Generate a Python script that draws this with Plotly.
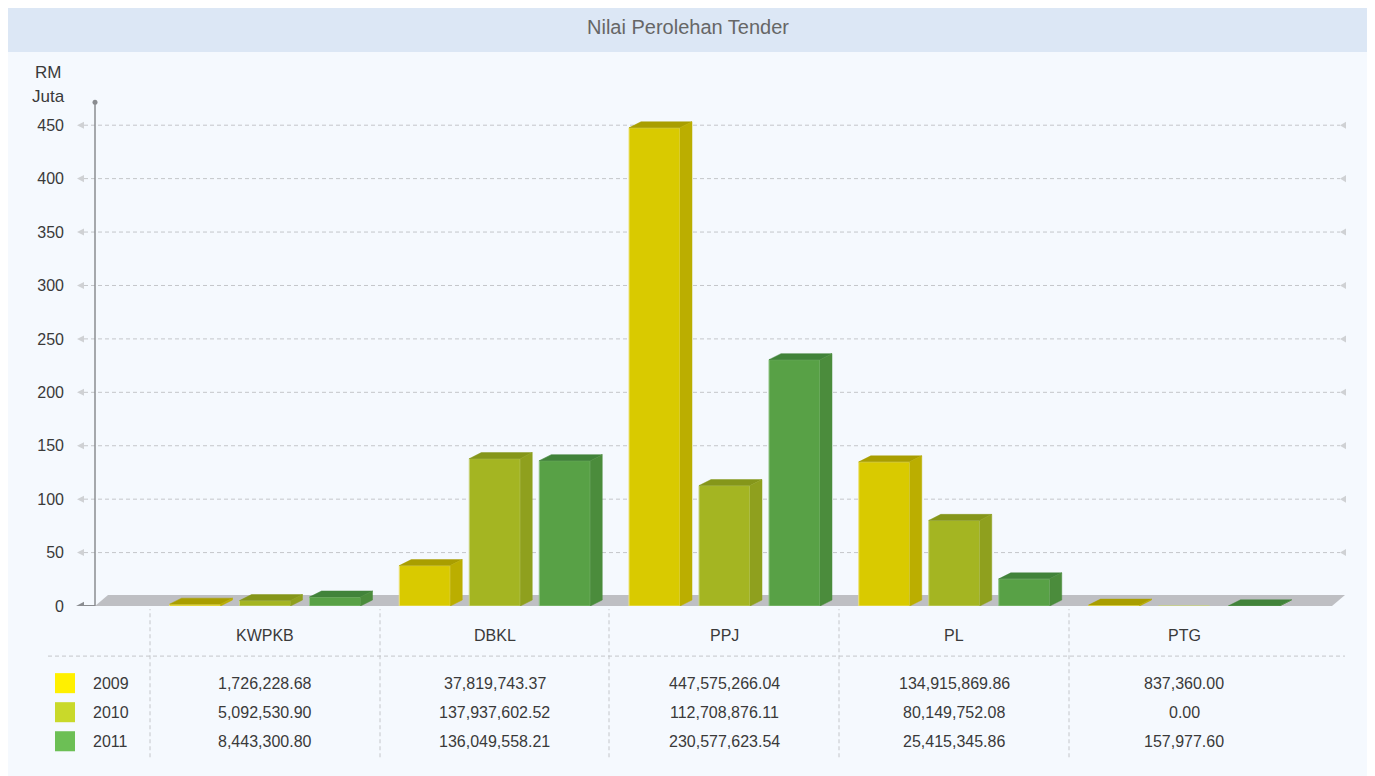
import plotly.graph_objects as go

# ---------------- data ----------------
categories = ["KWPKB", "DBKL", "PPJ", "PL", "PTG"]
years = ["2009", "2010", "2011"]
values_2009 = [1726228.68, 37819743.37, 447575266.04, 134915869.86, 837360.00]
values_2010 = [5092530.90, 137937602.52, 112708876.11, 80149752.08, 0.00]
values_2011 = [8443300.80, 136049558.21, 230577623.54, 25415345.86, 157977.60]
y_ticks = [0, 50, 100, 150, 200, 250, 300, 350, 400, 450]

series = [values_2009, values_2010, values_2011]

# ---------------- style ----------------
OFF = 8          # page body margin
VS = 0.9866      # observed vertical scale of the capture
W, H = 1375 - 2 * OFF, 768
front_cols = ["#D9CA00", "#A4B522", "#58A146"]
top_cols = ["#A99E00", "#85961A", "#41833A"]
side_cols = ["#BBAE00", "#8FA01E", "#4B8C3C"]
edge_cols = ["#ECE27A", "#C9D47E", "#8FC483"]
legend_cols = ["#FFF000", "#C9D92A", "#6CBF55"]
FONT = "Liberation Sans, Arial, sans-serif"
TXT = "#3a3a3a"
GRID_DASH = "4px,3px"

def px(x):
    return (x - OFF) / W

def py(y):
    return 1 - (y - OFF) / VS / H

# axis geometry (page pixels)
X_LEFT, X_RIGHT = 95, 1345
Y_TOP, Y_BOT = 102, 605
COL_W = 229.75
C0 = 265
PX_PER_UNIT_Y = 480 / 450.0
y_max = (Y_BOT - Y_TOP) / PX_PER_UNIT_Y
x_min = (X_LEFT - C0) / COL_W
x_max = (X_RIGHT - C0) / COL_W

bar_w = 51 / COL_W
offsets = [-70 / COL_W, 0.0, 70 / COL_W]
dx = 12 / COL_W
dy = 6 / PX_PER_UNIT_Y

fig = go.Figure()

for k, yr in enumerate(years):
    vals = [v / 1e6 for v in series[k]]
    xs = [i + offsets[k] for i in range(len(categories))]
    fig.add_trace(go.Bar(
        x=xs, y=vals, width=bar_w, name=yr,
        marker=dict(color=front_cols[k], line=dict(color=edge_cols[k], width=1)),
        hoverinfo="skip", showlegend=False,
    ))
    tx, ty, sx, sy = [], [], [], []
    for x, v in zip(xs, vals):
        if v <= 0:
            continue
        x0, x1 = x - bar_w / 2, x + bar_w / 2
        tx += [x0, x1, x1 + dx, x0 + dx, x0, None]
        ty += [v, v, v + dy, v + dy, v, None]
        sx += [x1, x1, x1 + dx, x1 + dx, x1, None]
        sy += [0, v, v + dy, dy, 0, None]
    fig.add_trace(go.Scatter(x=tx, y=ty, mode="lines", fill="toself",
                             fillcolor=top_cols[k], line=dict(width=0.5, color=top_cols[k]),
                             hoverinfo="skip", showlegend=False))
    fig.add_trace(go.Scatter(x=sx, y=sy, mode="lines", fill="toself",
                             fillcolor=side_cols[k], line=dict(width=0.5, color=side_cols[k]),
                             hoverinfo="skip", showlegend=False))

shapes = []
annotations = []

def text(t, x, y, size=16, color=TXT, xanchor="center"):
    annotations.append(dict(text=t, xref="paper", yref="paper", x=px(x), y=py(y),
                            xanchor=xanchor, yanchor="middle", showarrow=False,
                            font=dict(family=FONT, size=size, color=color)))

# panel background and title bar
shapes.append(dict(type="rect", xref="paper", yref="paper", x0=px(8), x1=px(1368),
                   y0=py(775), y1=py(4), fillcolor="#F5F9FE", line=dict(width=0), layer="below"))
shapes.append(dict(type="rect", xref="paper", yref="paper", x0=px(8), x1=px(1368),
                   y0=py(52), y1=py(4), fillcolor="#DCE7F5", line=dict(width=0), layer="below"))
text("Nilai Perolehan Tender", 688, 27, size=20, color="#666666")

# floor
fl_x0 = x_min
fl_x1 = (1332 - C0) / COL_W
fl_dx = 13 / COL_W
fl_dy = 11 / PX_PER_UNIT_Y
shapes.append(dict(type="path", xref="x", yref="y", layer="below",
                   path=f"M {fl_x0},0 L {fl_x1},0 L {fl_x1 + fl_dx},{fl_dy} L {fl_x0 + fl_dx},{fl_dy} Z",
                   fillcolor="#BEBFC3", line=dict(width=0)))

# grid lines and small triangles
tri_h = 3.5 / PX_PER_UNIT_Y
for t in y_ticks:
    if t > 0:
        shapes.append(dict(type="line", xref="paper", yref="y", x0=px(84), x1=px(1340), y0=t, y1=t,
                           line=dict(color="#C4C6CA", width=1, dash=GRID_DASH), layer="below"))
        shapes.append(dict(type="path", xref="paper", yref="y",
                           path=f"M {px(1340)},{t} L {px(1346)},{t + tri_h} L {px(1346)},{t - tri_h} Z",
                           fillcolor="#CFD1D4", line=dict(width=0)))
        shapes.append(dict(type="path", xref="paper", yref="y",
                           path=f"M {px(77)},{t} L {px(84)},{t + tri_h} L {px(84)},{t - tri_h} Z",
                           fillcolor="#CFD1D4", line=dict(width=0)))
    else:
        shapes.append(dict(type="line", xref="paper", yref="y", x0=px(80), x1=px(95), y0=0, y1=0,
                           line=dict(color="#8A8C90", width=2)))
        shapes.append(dict(type="path", xref="paper", yref="y",
                           path=f"M {px(76)},0 L {px(84)},{tri_h * 1.2} L {px(84)},{-tri_h * 1.2} Z",
                           fillcolor="#8A8C90", line=dict(width=0)))

# y axis line with dot on top
shapes.append(dict(type="line", xref="paper", yref="paper", x0=px(95), x1=px(95),
                   y0=py(Y_BOT), y1=py(Y_TOP), line=dict(color="#8A8C90", width=1.5)))
shapes.append(dict(type="circle", xref="paper", yref="paper", x0=px(92.5), x1=px(97.5),
                   y0=py(104.5), y1=py(99.5), fillcolor="#8A8C90", line=dict(width=0)))

# axis title
text("RM", 48, 72, size=17)
text("Juta", 48, 96, size=17)

# data table
col_div = [150, 380, 609, 839, 1069]
for xd in col_div:
    shapes.append(dict(type="line", xref="paper", yref="paper", x0=px(xd), x1=px(xd),
                       y0=py(756), y1=py(608), line=dict(color="#C4C6CA", width=1, dash=GRID_DASH)))
shapes.append(dict(type="line", xref="paper", yref="paper", x0=px(48), x1=px(1345),
                   y0=py(655), y1=py(655), line=dict(color="#C4C6CA", width=1, dash=GRID_DASH)))

row_y = [682, 711, 740]
for i, c in enumerate(categories):
    cx = C0 + COL_W * i
    text(c, cx, 634)
    for k in range(len(years)):
        text(f"{series[k][i]:,.2f}", cx, row_y[k])
for k, yr in enumerate(years):
    shapes.append(dict(type="rect", xref="paper", yref="paper", x0=px(55), x1=px(75),
                       y0=py(row_y[k] + 10), y1=py(row_y[k] - 10),
                       fillcolor=legend_cols[k], line=dict(width=0)))
    text(yr, 91, row_y[k], xanchor="left")

fig.update_layout(
    width=W, height=H,
    margin=dict(l=0, r=0, t=0, b=0),
    paper_bgcolor="#FFFFFF",
    plot_bgcolor="rgba(0,0,0,0)",
    barmode="overlay",
    showlegend=False,
    shapes=shapes,
    annotations=annotations,
    xaxis=dict(domain=[px(X_LEFT), px(X_RIGHT)], range=[x_min, x_max],
               showgrid=False, zeroline=False, showticklabels=False, showline=False, fixedrange=True),
    yaxis=dict(domain=[py(Y_BOT), py(Y_TOP)], range=[0, y_max],
               tickvals=y_ticks, ticktext=[str(t) for t in y_ticks],
               showgrid=False, zeroline=False, showline=False, ticks="",
               ticklabelstandoff=30,
               tickfont=dict(family=FONT, size=16, color=TXT), fixedrange=True),
)

fig.write_html("out.html")
